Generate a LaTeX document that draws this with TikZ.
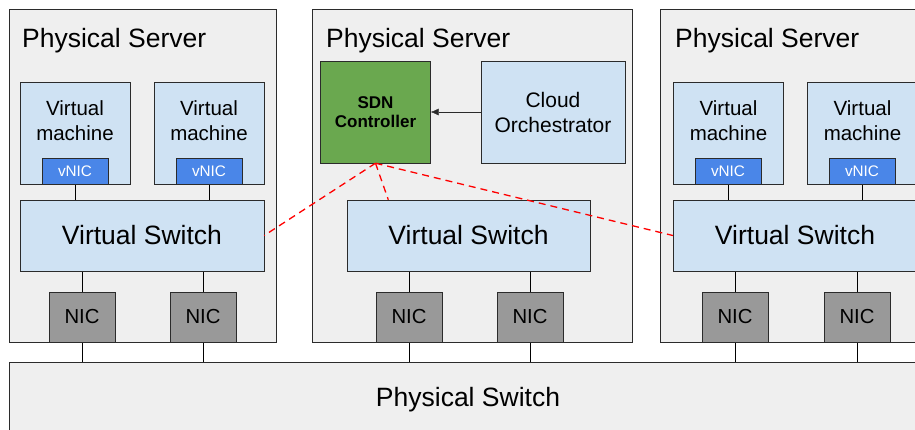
\documentclass[tikz,border=0pt]{standalone}
\usepackage{fontspec}
\setmainfont{Liberation Sans}
\usetikzlibrary{backgrounds,shapes,arrows.meta}
\pgfdeclarelayer{bglayer}
\pgfdeclarelayer{edgelayer}
\pgfdeclarelayer{nodelayer}
\pgfsetlayers{bglayer,edgelayer,nodelayer,main}
\definecolor{srvgrey}{HTML}{EFEFEF}
\definecolor{edgegrey}{HTML}{2B2B2B}
\definecolor{vmblue}{HTML}{CFE2F3}
\definecolor{vnicblue}{HTML}{4A86E8}
\definecolor{nicgrey}{HTML}{999999}
\definecolor{sdngreen}{HTML}{6AA84F}
\tikzset{x=1pt,y=-1pt,line width=1pt}
\tikzstyle{none}=[inner sep=0pt]
\tikzstyle{title}=[inner sep=0pt,anchor=west,font=\fontsize{26.5}{30}\selectfont]
\tikzstyle{server}=[rectangle,draw=edgegrey,fill=srvgrey,inner sep=0pt]
\tikzstyle{vm}=[rectangle,draw=edgegrey,fill=vmblue,minimum width=110pt,minimum height=102pt,
  label={[align=center,yshift=12.5pt,font=\fontsize{20.5}{25}\selectfont]center:{Virtual\\machine}}]
\tikzstyle{vnic}=[rectangle,draw=edgegrey,fill=vnicblue,text=white,minimum width=66pt,minimum height=26pt,
  font=\fontsize{15.3}{18}\selectfont]
\tikzstyle{vswitch}=[rectangle,draw=edgegrey,fill=vmblue,minimum width=244pt,minimum height=71pt,
  font=\fontsize{26.5}{30}\selectfont]
\tikzstyle{nic}=[rectangle,draw=edgegrey,fill=nicgrey,minimum width=66pt,minimum height=50pt,
  font=\fontsize{20.3}{24}\selectfont]
\tikzstyle{ctrl}=[draw=red,line width=1.3pt,dash pattern=on 7pt off 5pt]

\begin{document}
\begin{tikzpicture}
	\useasboundingbox (0,0) rectangle (915,429);
	\begin{pgfonlayer}{bglayer}
		\node [style=server, minimum width=267pt, minimum height=333pt] (0) at (142.5, 175.5) {};
		\node [style=server, minimum width=320pt, minimum height=333pt] (1) at (472, 175.5) {};
		\node [style=server, minimum width=300pt, minimum height=333pt] (2) at (810, 175.5) {};
	\end{pgfonlayer}
	\begin{pgfonlayer}{nodelayer}
		\node [style=title] (3) at (22, 41) {Physical Server};
		\node [style=title] (4) at (326, 41) {Physical Server};
		\node [style=title] (5) at (675, 41) {Physical Server};
		% left server
		\node [style=vm] (6) at (75, 133) {};
		\node [style=vm] (7) at (209, 133) {};
		\node [style=vnic] (8) at (75, 171) {vNIC};
		\node [style=vnic] (9) at (209, 171) {vNIC};
		\node [style=vswitch] (10) at (142, 235.5) {Virtual Switch};
		\node [style=nic] (11) at (82, 317) {NIC};
		\node [style=nic] (12) at (203, 317) {NIC};
		% middle server
		\node [rectangle, draw=edgegrey, fill=sdngreen, minimum width=110pt, minimum height=102pt,
			align=center, font=\fontsize{17}{19.5}\selectfont\bfseries] (13) at (375.5, 112) {SDN\\Controller};
		\node [rectangle, draw=edgegrey, fill=vmblue, minimum width=144pt, minimum height=102pt,
			align=center, font=\fontsize{21}{25}\selectfont] (14) at (553, 112) {Cloud\\Orchestrator};
		\node [style=vswitch, minimum width=243pt] (15) at (468.5, 235.5) {Virtual Switch};
		\node [style=nic] (16) at (409, 317) {NIC};
		\node [style=nic] (17) at (530, 317) {NIC};
		% right server
		\node [style=vm] (18) at (728.5, 133) {};
		\node [style=vm] (19) at (862.5, 133) {};
		\node [style=vnic] (20) at (728, 171) {vNIC};
		\node [style=vnic] (21) at (862, 171) {vNIC};
		\node [style=vswitch] (22) at (795, 235.5) {Virtual Switch};
		\node [style=nic] (23) at (735, 317) {NIC};
		\node [style=nic] (24) at (857, 317) {NIC};
		% physical switch
		\node [rectangle, draw=edgegrey, fill=srvgrey, minimum width=918pt, minimum height=76pt,
			font=\fontsize{26.5}{30}\selectfont] (25) at (468, 400) {Physical Switch};
	\end{pgfonlayer}
	\begin{pgfonlayer}{edgelayer}
		\draw (8.center) to (8 |- 10.center);
		\draw (9.center) to (9 |- 10.center);
		\draw (20.center) to (20 |- 22.center);
		\draw (21.center) to (21 |- 22.center);
		\draw (11 |- 10.center) to (11 |- 25.center);
		\draw (12 |- 10.center) to (12 |- 25.center);
		\draw (16 |- 15.center) to (16 |- 25.center);
		\draw (17 |- 15.center) to (17 |- 25.center);
		\draw (23 |- 22.center) to (23 |- 25.center);
		\draw (24 |- 22.center) to (24 |- 25.center);
		\draw [-{Latex[length=8pt,width=7pt]}, edgegrey] (14.west) to (13.east);
	\end{pgfonlayer}
	% controller links on top
	\draw [style=ctrl] (13.south) to (10.east);
	\draw [style=ctrl] (13.south) to (15.156);
	\draw [style=ctrl] (13.south) to (22.west);
\end{tikzpicture}
\end{document}
